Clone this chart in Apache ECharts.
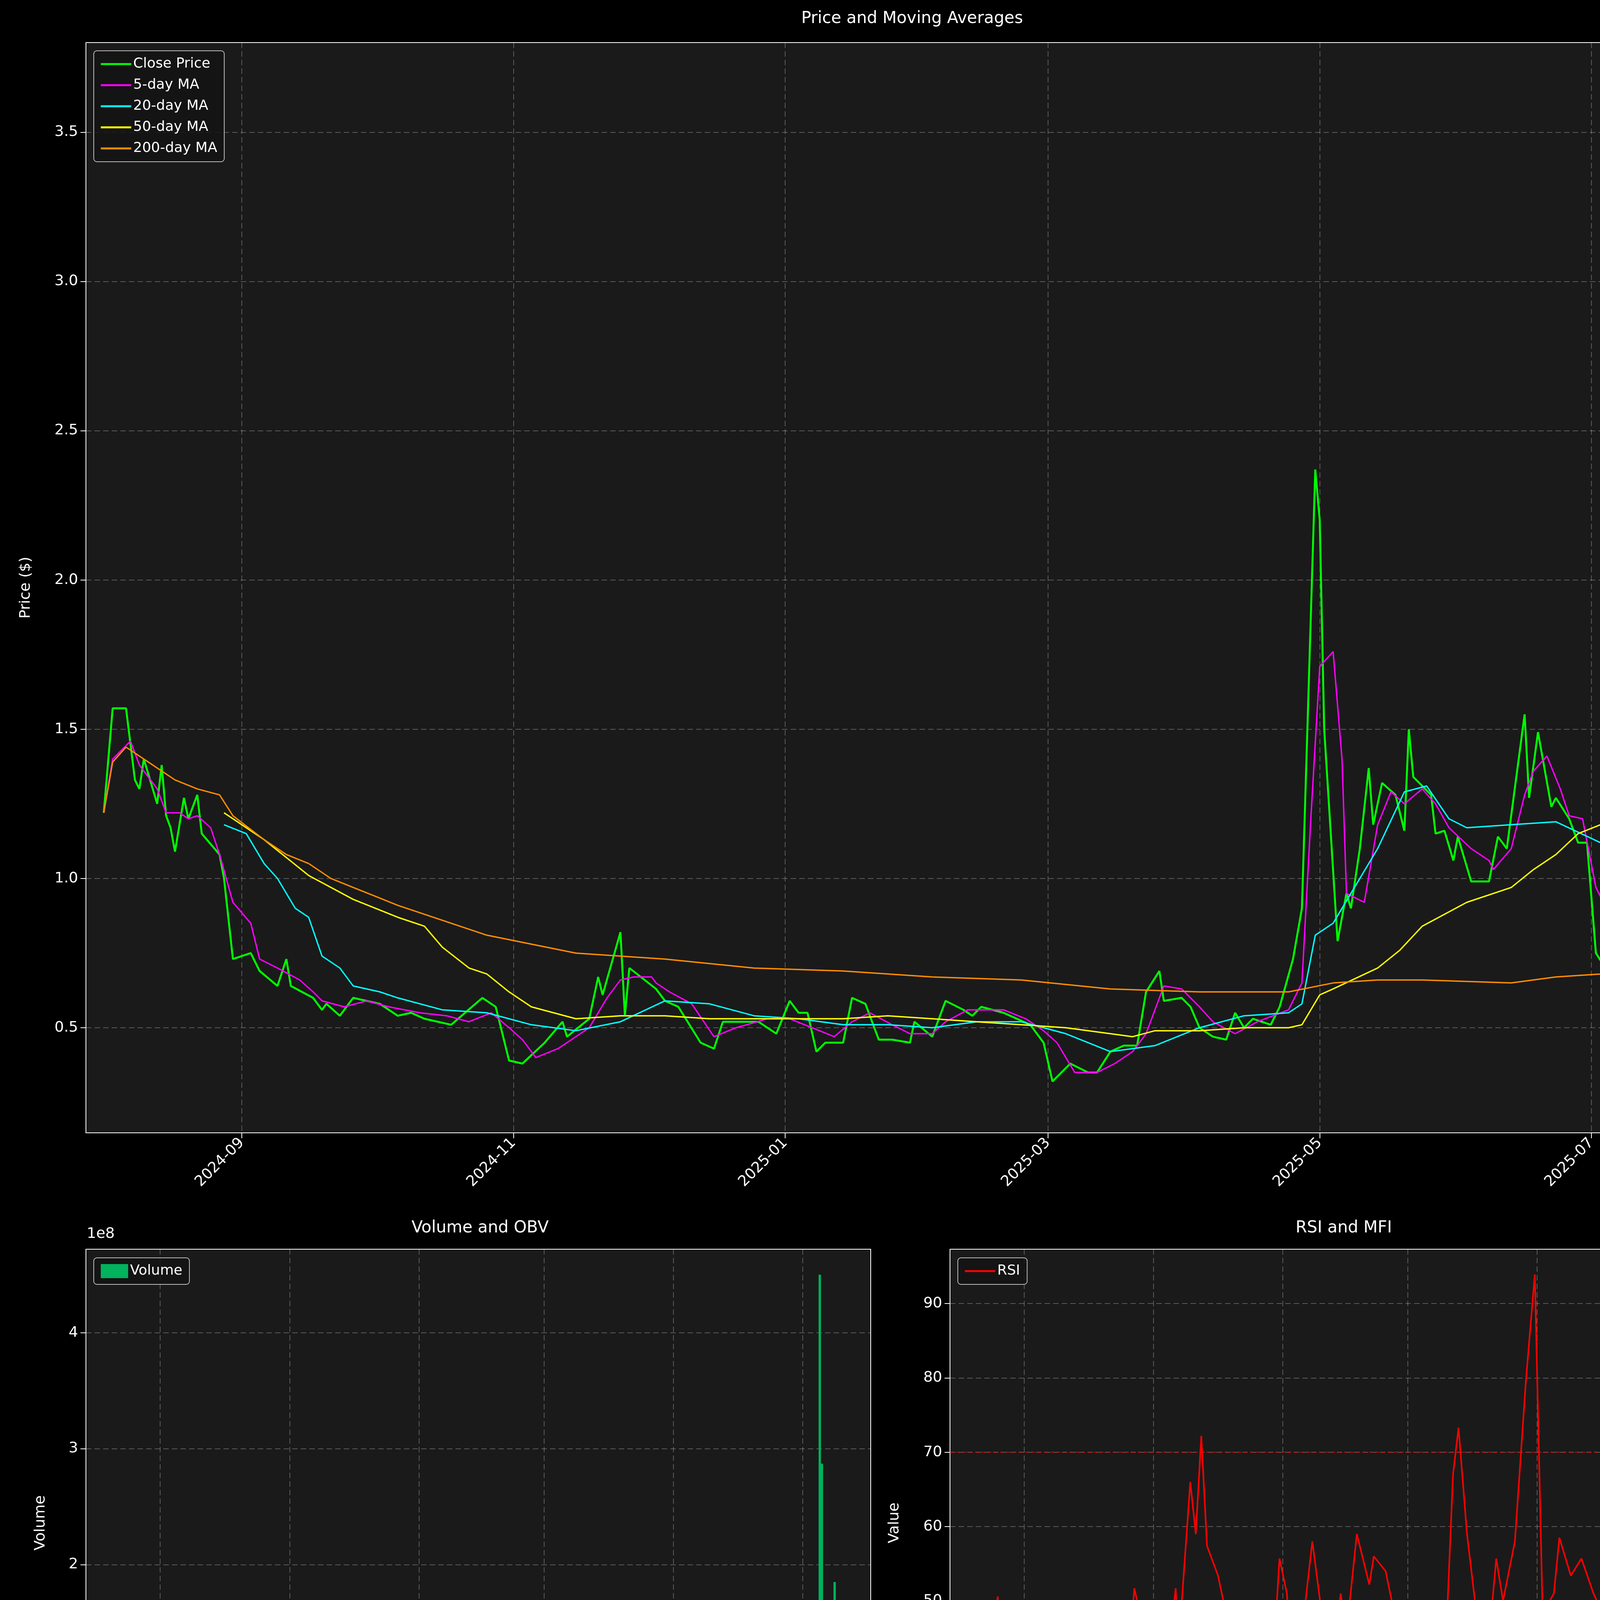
<!DOCTYPE html>
<html><head><meta charset="utf-8">
<script src="https://cdn.jsdelivr.net/npm/echarts@6/dist/echarts.min.js"></script>
<style>html,body{margin:0;padding:0;background:#000;overflow:hidden}#c{width:4470px;height:6507px}</style>
</head><body><div id="c"></div>
<script>
// ---- data (days since 2024-07-28) ----
const baseDate = '2024-07-28';
const axisEndDay = 370;
const tickLabels = ['2024-09','2024-11','2025-01','2025-03','2025-05','2025-07'];

const closeDays = [4,6,9,11,12,13,16,17,18,19,20,22,23,25,26,30,31,33,37,39,43,45,46,51,53,54,57,60,66,70,73,76,82,89,92,95,98,103,107,108,113,115,116,120,121,122,128,130,133,138,141,143,151,155,158,160,162,164,166,170,172,175,178,181,185,186,190,193,197,199,201,206,212,215,217,221,225,227,230,233,236,238,241,242,246,248,250,253,256,258,260,262,266,268,271,273,276,277,278,281,283,284,286,288,289,291,294,296,297,298,302,303,305,307,308,311,315,317,319,323,324,326,329,330,333,335,337,339,342,343,345,347,350,352,353,354,357,359,360,363,365,366,367];
const closeVals = [1.22,1.57,1.57,1.33,1.30,1.40,1.25,1.38,1.21,1.17,1.09,1.27,1.20,1.28,1.15,1.08,1.00,0.73,0.75,0.69,0.64,0.73,0.64,0.60,0.56,0.58,0.54,0.60,0.58,0.54,0.55,0.53,0.51,0.60,0.57,0.39,0.38,0.45,0.52,0.47,0.53,0.67,0.61,0.82,0.54,0.70,0.63,0.59,0.57,0.45,0.43,0.52,0.52,0.48,0.59,0.55,0.55,0.42,0.45,0.45,0.60,0.58,0.46,0.46,0.45,0.52,0.47,0.59,0.56,0.54,0.57,0.55,0.51,0.45,0.32,0.38,0.35,0.35,0.42,0.44,0.44,0.62,0.69,0.59,0.60,0.57,0.50,0.47,0.46,0.55,0.50,0.53,0.51,0.57,0.73,0.90,2.37,2.20,1.50,0.79,0.95,0.90,1.10,1.37,1.18,1.32,1.28,1.16,1.50,1.34,1.28,1.15,1.16,1.06,1.14,0.99,0.99,1.14,1.10,1.55,1.27,1.49,1.24,1.27,1.20,1.12,1.12,0.75,0.68,0.46,0.37,3.64,2.70,1.68,3.40,2.70,2.40,1.74,1.94,1.80,1.71,1.71,1.87];

const ma5Days = [4,6,10,12,16,18,21,23,25,28,30,33,37,39,43,48,51,53,58,63,68,75,81,86,91,95,98,101,106,110,113,117,120,123,127,128,131,136,141,146,153,158,163,168,172,176,181,185,190,193,198,206,211,215,218,222,227,231,235,238,242,246,250,253,258,263,270,273,275,277,280,282,283,287,290,293,296,300,303,306,311,315,316,320,323,325,328,331,333,336,339,342,345,347,350,352,353,356,358,360,363,367];
const ma5Vals = [1.22,1.40,1.46,1.38,1.30,1.22,1.22,1.20,1.21,1.17,1.08,0.92,0.85,0.73,0.70,0.66,0.62,0.59,0.57,0.59,0.57,0.55,0.54,0.52,0.55,0.50,0.46,0.40,0.43,0.47,0.50,0.60,0.66,0.67,0.67,0.65,0.62,0.58,0.47,0.50,0.53,0.53,0.50,0.47,0.52,0.55,0.51,0.48,0.48,0.52,0.56,0.56,0.53,0.49,0.45,0.35,0.35,0.38,0.42,0.48,0.64,0.63,0.57,0.52,0.48,0.52,0.56,0.65,1.20,1.71,1.76,1.40,0.95,0.92,1.18,1.29,1.25,1.30,1.25,1.17,1.10,1.06,1.03,1.10,1.28,1.36,1.41,1.30,1.21,1.20,0.97,0.88,0.63,1.30,1.60,2.60,2.43,2.42,2.57,2.10,1.97,1.78];

const ma20Days = [31,36,40,43,47,50,53,57,60,66,70,80,90,100,110,120,130,140,150,160,170,180,190,200,210,220,230,240,250,260,270,273,276,280,290,296,301,306,310,320,330,340,344,346,350,353,360,363,367];
const ma20Vals = [1.18,1.15,1.05,1.00,0.90,0.87,0.74,0.70,0.64,0.62,0.60,0.56,0.55,0.51,0.49,0.52,0.59,0.58,0.54,0.53,0.51,0.51,0.50,0.52,0.52,0.48,0.42,0.44,0.50,0.54,0.55,0.58,0.81,0.85,1.10,1.29,1.31,1.20,1.17,1.18,1.19,1.12,1.07,1.22,1.28,1.50,1.56,1.70,1.83];

const ma50Days = [31,40,50,60,70,76,80,86,90,95,100,110,120,130,140,150,160,170,180,190,200,210,220,230,235,240,250,260,270,273,277,280,290,295,300,310,320,325,330,335,340,345,347,350,353,360,367];
const ma50Vals = [1.22,1.13,1.01,0.93,0.87,0.84,0.77,0.70,0.68,0.62,0.57,0.53,0.54,0.54,0.53,0.53,0.53,0.53,0.54,0.53,0.52,0.51,0.50,0.48,0.47,0.49,0.49,0.50,0.50,0.51,0.61,0.63,0.70,0.76,0.84,0.92,0.97,1.03,1.08,1.15,1.18,1.18,1.23,1.23,1.32,1.40,1.45];

const ma200Days = [4,6,9,15,20,25,30,33,40,45,50,55,60,65,70,80,90,100,110,130,150,170,190,210,230,250,270,280,290,300,320,330,340,345,350,355,360,367];
const ma200Vals = [1.22,1.39,1.44,1.38,1.33,1.30,1.28,1.21,1.13,1.08,1.05,1.00,0.97,0.94,0.91,0.86,0.81,0.78,0.75,0.73,0.70,0.69,0.67,0.66,0.63,0.62,0.62,0.65,0.66,0.66,0.65,0.67,0.68,0.69,0.71,0.74,0.78,0.81];

const volDays = [10,113,116,118,121,160,175,232,270,272,274,276,278,280,282,342,344,345,346,347,348,349,350,351,352,353,354,355,356,358,360,362,364,366];
const volVals = [6e6,3e6,4e6,5e6,3e6,2e6,2e6,1e6,5e6,8e6,4e6,6e6,3e6,4e6,2e6,1e7,2e7,5e6,4.5e8,2.87e8,3e7,1.5e7,2e7,1.7e7,1.8e7,1.85e8,1.2e7,1e7,8e6,1.1e7,6e6,5e6,3e6,2e6];

const rsiDays = [3,20,21.5,22.5,25,28,31,34.5,37,42.5,45,49,55.5,63,68,71,76.5,81.8,84,87,91,95,99,102.9,106.5,108,113.4,116,118.6,121.3,126.5,129,134.6,138.5,142,150,152.8,155.5,159,162,165,171,176.5,181.7,184.4,187,192,197.9,200,205.6,211,215,216.6,219,225,229.6,234.8,237.4,240,244,248,249.6,254,257.8,261,266.6,271.8,276,279.7,285,287.6,293,298,303.7,309,314,319.8,323.5,326.7,330.3,335.6,339,341,344.6,346,347.8,351.5,353,355,358.8,362,366,368];
const rsiVals = [50,50,47.7,50.6,44,40,28,28.9,27.7,34,29.5,30.6,35,34,32.3,37.4,34,36.3,40.8,51.7,46.5,29.4,30,42,51.7,44.3,66,59,72.2,57.4,53.4,50,40.8,39.7,48.3,49.4,43,55.7,51,38.5,43,58,46,44.8,51,45.4,59,52.2,56,54,46.5,29.4,27,34,37.4,47.7,49.4,67,73.3,59,49.4,46.5,43.7,55.7,50,58,79.6,93.9,48.3,51,58.5,53.4,55.7,51,47.7,46,54,63.7,52.2,57.4,47.7,43,36.8,35,28.9,78.5,53.4,65.4,58,54.5,50,50,51];

const macdDays = [0,35.6,36.6,41.4,49.4,54.7,62.6,70.6,83.9,89,95.5,105,111.5,118.4,123.7,131.6,139.6,147.5,158,166,174,182,190,198,206,211,219,224.5,232.4,240.4,245.7,251,256,266.9,273.3,277,280,282.3,288,298.7,306.7,317,326.8,333,338.5,343.8,345.9,348,351.8,355.5,358,360.8,365,368];
const macdVals = [0,0,-0.14,-0.155,-0.155,-0.12,-0.09,-0.065,-0.05,-0.03,-0.055,-0.04,-0.02,0.035,0.038,0.005,-0.02,-0.012,-0.01,-0.02,0,-0.015,-0.01,0.01,0.012,0.01,-0.04,-0.045,-0.02,0.043,0.038,0.01,0.002,0.007,0.05,0.35,0.31,0.15,0.145,0.12,0.05,-0.005,0.075,0.03,-0.055,-0.1,-0.155,0.13,0.22,0.385,0.39,0.28,0.16,0.137];
const signalDays = [0,48.3,48.8,57.3,65.3,78.6,94.5,102.4,115.7,126.3,136.9,158,179.4,190,206,216.4,228,243,256,266.9,273.8,277.5,282.3,296,306.7,317,327.9,338.5,345.9,349,357.5,360.8,365,368];
const signalVals = [0,0,-0.155,-0.14,-0.1,-0.07,-0.045,-0.05,0,0.025,-0.012,-0.012,-0.008,-0.012,0.01,0,-0.035,0.028,0.01,0.008,0.03,0.155,0.205,0.14,0.1,0.025,0.05,-0.01,-0.06,0.05,0.2,0.28,0.26,0.21];

const vwapDays = [1.9,5.6,10.9,13.5,24,32,45,66,87,97.6,108,112,116,121.3,155.5,166,176.5,197.5,223.8,250,272.7,276.4,287,308,339.5,343,346.3,350,353,365.7];
const vwapVals = [1.23,1.55,1.56,1.54,1.48,1.45,1.41,1.38,1.35,1.32,1.27,1.22,1.05,0.93,0.90,0.86,0.82,0.79,0.77,0.745,0.74,0.97,0.99,1.0,1.01,0.99,2.03,2.05,2.24,2.23];
const bandDays = [1.9,29,30,45,66,76.6,97.6,108,113.4,116,121.3,125.5,129,134.4,137,142.3,145,150,171,181.7,197.5,229,255.4,272.7,276.4,281.6,289.5,294.8,297.4,302.7,308,310.6,339.5,342,343,344.7,345.7,353.6,355,356.8,363,366.8];
const bandUpper = [1.64,1.64,1.58,1.55,1.45,1.40,1.38,1.37,1.36,1.37,1.42,1.43,1.38,1.25,1.15,1.0,0.97,0.94,0.93,0.95,0.83,0.80,0.76,0.745,0.93,1.0,1.12,1.12,1.10,1.05,1.03,1.02,1.02,1.02,1.1,1.4,1.6,2.2,2.4,2.5,2.85,2.95];
const bandLower = [1.32,1.32,1.34,1.40,1.37,1.36,1.33,1.27,1.22,1.05,0.85,0.82,0.80,0.80,0.81,0.86,0.88,0.90,0.89,0.88,0.78,0.77,0.75,0.73,0.65,0.62,0.67,0.80,0.90,0.94,0.97,0.97,0.99,0.99,0.9,0.7,0.6,0.3,0.3,0.31,0.55,0.87];

// ---- helpers ----
const DAY = 86400000;
const t0 = Date.parse(baseDate + 'T00:00:00Z');
const toMs = d => t0 + d * DAY;
const pts = (ds, vs) => ds.map((d, i) => [toMs(d), vs[i]]);
const tickMs = tickLabels.map(s => Date.parse(s + '-01T00:00:00Z'));
const fmtMonth = v => { const d = new Date(v); return d.getUTCFullYear() + '-' + String(d.getUTCMonth() + 1).padStart(2, '0'); };

const FS = 38;
const gridLine = { show: true, lineStyle: { color: 'rgba(255,255,255,0.28)', type: [14, 8], width: 2 } };
function xAx(gi) {
  return { type: 'value', gridIndex: gi, min: t0, max: toMs(axisEndDay),
    axisLine: { show: false },
    axisTick: { show: true, customValues: tickMs, length: 14, lineStyle: { color: '#fff', width: 2 } },
    axisLabel: { customValues: tickMs, formatter: fmtMonth, rotate: 45, color: '#fff', fontSize: FS, margin: 20, fontFamily: 'DejaVu Sans' },
    splitLine: gridLine };
}
function yAx(gi, min, max, ticks, name, gap, fmt) {
  return { type: 'value', gridIndex: gi, min, max, name, nameLocation: 'middle', nameGap: gap,
    nameTextStyle: { color: '#fff', fontSize: FS, fontFamily: 'DejaVu Sans' },
    axisLine: { show: false },
    axisTick: { show: true, customValues: ticks, length: 14, lineStyle: { color: '#fff', width: 2 } },
    axisLabel: { customValues: ticks, color: '#fff', fontSize: FS, margin: 20, fontFamily: 'DejaVu Sans', formatter: fmt || (v => v.toFixed(1)) },
    splitLine: gridLine };
}
const gridBase = { show: true, backgroundColor: '#1a1a1a', borderColor: '#ffffff', borderWidth: 2 };
const grids = [
  Object.assign({ left: 220, top: 109, width: 4219, height: 2791 }, gridBase),
  Object.assign({ left: 220, top: 3198, width: 2009, height: 1401 }, gridBase),
  Object.assign({ left: 2432, top: 3198, width: 2007, height: 1401 }, gridBase),
  Object.assign({ left: 220, top: 4899, width: 2009, height: 1395 }, gridBase),
  Object.assign({ left: 2432, top: 4899, width: 2007, height: 1395 }, gridBase)
];
const legendBase = { orient: 'vertical', backgroundColor: 'rgba(20,20,20,0.85)', borderColor: '#bbb', borderWidth: 2, borderRadius: 8, padding: [16, 18], itemGap: 18, itemWidth: 78, itemHeight: 5, icon: 'rect', textStyle: { color: '#fff', fontSize: 36, fontFamily: 'DejaVu Sans' } };
const line = (name, data, color, w, xi, extra) => Object.assign({ name, type: 'line', xAxisIndex: xi, yAxisIndex: xi, data, showSymbol: false, symbol: 'none', lineStyle: { color, width: w }, itemStyle: { color }, animation: false }, extra || {});

const titleStyle = { color: '#fff', fontSize: 42, fontWeight: 'normal', fontFamily: 'DejaVu Sans' };
const option = {
  backgroundColor: '#000',
  animation: false,
  title: [
    { text: 'Price and Moving Averages', left: 2330, top: 22, textAlign: 'center', textStyle: titleStyle },
    { text: 'Volume and OBV', left: 1224, top: 3118, textAlign: 'center', textStyle: titleStyle },
    { text: 'RSI and MFI', left: 3435, top: 3118, textAlign: 'center', textStyle: titleStyle },
    { text: 'MACD', left: 1224, top: 4818, textAlign: 'center', textStyle: titleStyle },
    { text: 'VWAP with Bollinger Bands', left: 3435, top: 4818, textAlign: 'center', textStyle: titleStyle }
  ],
  legend: [
    Object.assign({}, legendBase, { left: 240, top: 130, data: ['Close Price', '5-day MA', '20-day MA', '50-day MA', '200-day MA'] }),
    Object.assign({}, legendBase, { left: 240, top: 3220, data: ['Volume'], itemHeight: 36, itemWidth: 70 }),
    Object.assign({}, legendBase, { left: 2452, top: 3220, data: ['RSI'] }),
    Object.assign({}, legendBase, { left: 240, top: 4920, data: ['MACD', 'Signal'] }),
    Object.assign({}, legendBase, { left: 2452, top: 4920, data: ['Close Price ', 'VWAP', 'VWAP BB Upper', 'VWAP BB Lower'] })
  ],
  grid: grids,
  xAxis: [0, 1, 2, 3, 4].map(xAx),
  yAxis: [
    yAx(0, 0.148, 3.8, [0.5, 1, 1.5, 2, 2.5, 3, 3.5], 'Price ($)', 135),
    yAx(1, 0, 4.72e8, [0, 1e8, 2e8, 3e8, 4e8], 'Volume', 97, v => String(Math.round(v / 1e8))),
    yAx(2, 23.7, 97.3, [30, 40, 50, 60, 70, 80, 90], 'Value', 123, v => String(v)),
    yAx(3, -0.1855, 0.416, [-0.1, 0, 0.1, 0.2, 0.3, 0.4], 'Value', 172, v => (v < 0 ? '\u2212' + Math.abs(v).toFixed(1) : v.toFixed(1))),
    yAx(4, 0.148, 3.795, [0.5, 1, 1.5, 2, 2.5, 3, 3.5], 'Price ($)', 137)
  ],
  graphic: [{ type: 'text', left: 222, top: 3140, style: { text: '1e8', fill: '#fff', font: '38px DejaVu Sans' } }],
  series: [
    line('Close Price', pts(closeDays, closeVals), '#00ff00', 5, 0),
    line('5-day MA', pts(ma5Days, ma5Vals), '#ff00ff', 3.5, 0),
    line('20-day MA', pts(ma20Days, ma20Vals), '#00ffff', 3.5, 0),
    line('50-day MA', pts(ma50Days, ma50Vals), '#ffff00', 3.5, 0),
    line('200-day MA', pts(ma200Days, ma200Vals), '#ff8c00', 3.5, 0),
    { name: 'Volume', type: 'bar', xAxisIndex: 1, yAxisIndex: 1, data: pts(volDays, volVals), barWidth: 6, itemStyle: { color: '#00b35c' }, animation: false },
    line('RSI', pts(rsiDays, rsiVals), '#ff0000', 4, 2, {
      markLine: { symbol: 'none', silent: true, label: { show: false }, data: [
        { yAxis: 70, lineStyle: { color: 'rgba(255,0,0,0.55)', type: [10, 6], width: 3 } },
        { yAxis: 30, lineStyle: { color: 'rgba(0,200,0,0.55)', type: [10, 6], width: 3 } }] } }),
    line('MACD', pts(macdDays, macdVals), '#ff8c00', 5, 3),
    line('Signal', pts(signalDays, signalVals), '#1aff8c', 5, 3),
    { type: 'custom', xAxisIndex: 4, yAxisIndex: 4, data: [0], animation: false, silent: true,
      renderItem: (params, api) => {
        const up = bandDays.map((d, i) => api.coord([toMs(d), bandUpper[i]]));
        const lo = bandDays.map((d, i) => api.coord([toMs(d), bandLower[i]])).reverse();
        return { type: 'polygon', shape: { points: up.concat(lo) }, style: { fill: 'rgba(128,128,128,0.2)' } };
      } },
    line('Close Price ', pts(closeDays, closeVals), '#0a8a0a', 3.5, 4),
    line('VWAP', pts(vwapDays, vwapVals), '#ff00ff', 6, 4),
    line('VWAP BB Upper', pts(bandDays, bandUpper), '#a03c3c', 2.5, 4),
    line('VWAP BB Lower', pts(bandDays, bandLower), '#2e9a2e', 2.5, 4)
  ]
};
const chart = echarts.init(document.getElementById('c'), null, { renderer: 'canvas', width: 4470, height: 6507 });
chart.setOption(option);
</script></body></html>
